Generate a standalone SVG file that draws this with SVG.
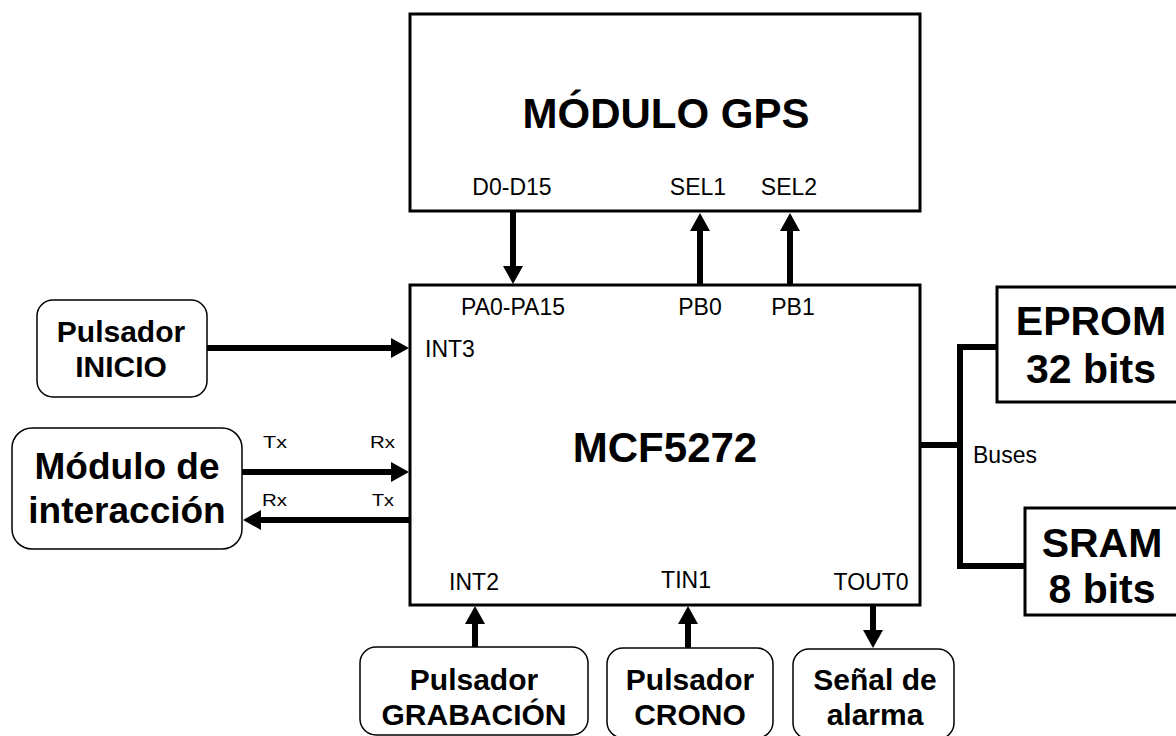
<svg xmlns="http://www.w3.org/2000/svg" width="1176" height="736" viewBox="0 0 1176 736">
<style>
.box{fill:#fff;stroke:#000;stroke-width:3}
.rbox{fill:#fff;stroke:#000;stroke-width:1.5}
.big{font-family:"Liberation Sans",Arial,sans-serif;font-weight:bold;font-size:42px;text-anchor:middle;fill:#000}
.mem{font-family:"Liberation Sans",Arial,sans-serif;font-weight:bold;font-size:41px;text-anchor:middle;fill:#000}
.lbl{font-family:"Liberation Sans",Arial,sans-serif;font-weight:bold;font-size:30px;text-anchor:middle;fill:#000}
.lbl2{font-family:"Liberation Sans",Arial,sans-serif;font-weight:bold;font-size:37px;text-anchor:middle;fill:#000}
.pin{font-family:"Liberation Sans",Arial,sans-serif;font-size:23px;text-anchor:middle;fill:#000}
.sm{font-family:"Liberation Sans",Arial,sans-serif;font-size:17px;fill:#000}
.wire{stroke:#000;stroke-width:6;fill:none}
</style>
<defs>
<marker id="ah" markerUnits="userSpaceOnUse" markerWidth="20" markerHeight="22" refX="0" refY="10" orient="auto" overflow="visible">
<path d="M0,0 L18,10 L0,20 Z" fill="#000"/>
</marker>
</defs>

<g id="gps">
<rect class="box" x="410" y="14" width="510" height="197"/>
<text class="big" x="666" y="128">MÓDULO GPS</text>
<text class="pin" x="512" y="195">D0-D15</text>
<text class="pin" x="698" y="195">SEL1</text>
<text class="pin" x="789" y="195">SEL2</text>
</g>

<g id="mcf">
<rect class="box" x="410" y="285" width="510" height="320"/>
<text class="big" x="665" y="462">MCF5272</text>
<text class="pin" x="513" y="315">PA0-PA15</text>
<text class="pin" x="700" y="315">PB0</text>
<text class="pin" x="793" y="315">PB1</text>
<text class="pin" x="425" y="357" style="text-anchor:start">INT3</text>
<text class="pin" x="474" y="590">INT2</text>
<text class="pin" x="686" y="588">TIN1</text>
<text class="pin" x="871" y="590">TOUT0</text>
</g>

<g id="eprom">
<rect class="box" x="997" y="287" width="190" height="115"/>
<text class="mem" x="1091" y="335">EPROM</text>
<text class="mem" x="1091" y="383">32 bits</text>
</g>

<g id="sram">
<rect class="box" x="1025" y="508" width="160" height="107"/>
<text class="mem" x="1102" y="557">SRAM</text>
<text class="mem" x="1102" y="603">8 bits</text>
</g>

<g id="inicio">
<rect class="rbox" x="37" y="300" width="170" height="97" rx="16"/>
<text class="lbl" x="121" y="342">Pulsador</text>
<text class="lbl" x="121" y="377">INICIO</text>
</g>

<g id="interaccion">
<rect class="rbox" x="12" y="428" width="230" height="121" rx="20"/>
<text class="lbl2" x="127" y="479">Módulo de</text>
<text class="lbl2" x="127" y="523">interacción</text>
</g>

<g id="grabacion">
<rect class="rbox" x="360" y="647" width="228" height="88" rx="16"/>
<text class="lbl" x="474" y="690">Pulsador</text>
<text class="lbl" x="474" y="725">GRABACIÓN</text>
</g>

<g id="crono">
<rect class="rbox" x="607" y="648" width="166" height="90" rx="16"/>
<text class="lbl" x="690" y="690">Pulsador</text>
<text class="lbl" x="690" y="725">CRONO</text>
</g>

<g id="alarma">
<rect class="rbox" x="793" y="649" width="161" height="90" rx="16"/>
<text class="lbl" x="875" y="690">Señal de</text>
<text class="lbl" x="875" y="725">alarma</text>
</g>

<g id="connectors">
<line class="wire" x1="513" y1="211" x2="513" y2="266" marker-end="url(#ah)"/>
<line class="wire" x1="700" y1="285" x2="700" y2="231" marker-end="url(#ah)"/>
<line class="wire" x1="790" y1="285" x2="790" y2="231" marker-end="url(#ah)"/>
<line class="wire" x1="207" y1="348" x2="391" y2="348" marker-end="url(#ah)"/>
<line class="wire" x1="242" y1="472" x2="391" y2="472" marker-end="url(#ah)"/>
<line class="wire" x1="410" y1="520" x2="261" y2="520" marker-end="url(#ah)"/>
<line class="wire" x1="475" y1="647" x2="475" y2="624" marker-end="url(#ah)"/>
<line class="wire" x1="688" y1="648" x2="688" y2="624" marker-end="url(#ah)"/>
<line class="wire" x1="873" y1="605" x2="873" y2="630" marker-end="url(#ah)"/>
<polyline class="wire" points="920,445 960,445"/>
<polyline class="wire" points="997,347 960,347 960,566 1025,566"/>
<text class="sm" x="263" y="448" textLength="24" lengthAdjust="spacingAndGlyphs">Tx</text>
<text class="sm" x="370" y="448" textLength="25" lengthAdjust="spacingAndGlyphs">Rx</text>
<text class="sm" x="262" y="506" textLength="25" lengthAdjust="spacingAndGlyphs">Rx</text>
<text class="sm" x="372" y="506" textLength="22" lengthAdjust="spacingAndGlyphs">Tx</text>
<text class="pin" x="973" y="463" style="text-anchor:start">Buses</text>
</g>
</svg>
